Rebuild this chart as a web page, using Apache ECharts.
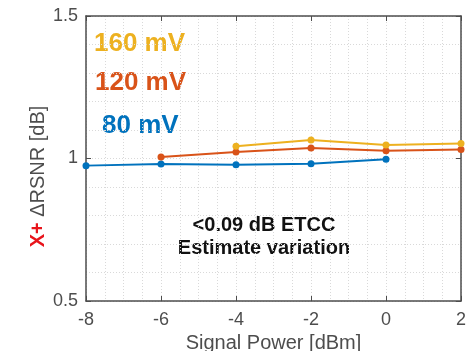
<!DOCTYPE html>
<html>
<head>
<meta charset="utf-8">
<script src="https://cdn.jsdelivr.net/npm/echarts@6/dist/echarts.min.js"></script>
<style>
  html, body { margin: 0; padding: 0; background: #fff; }
  #chart { width: 469px; height: 351px; }
</style>
</head>
<body>
<div id="chart"></div>
<script>
// signal power (dBm) and ΔRSNR (dB) per swing voltage
const power80 = [-8, -6, -4, -2, 0];
const rsnr80 = [0.975, 0.981, 0.978, 0.982, 0.997];
const power120 = [-6, -4, -2, 0, 2];
const rsnr120 = [1.005, 1.023, 1.037, 1.027, 1.032];
const power160 = [-4, -2, 0, 2];
const rsnr160 = [1.043, 1.065, 1.047, 1.053];
const seriesNames = ["80 mV", "120 mV", "160 mV"];
const seriesColors = ["#0072BD", "#D95319", "#EDB120"];
const noteLines = ["<0.09 dB ETCC", "Estimate variation"];

const pair = (xs, ys) => xs.map((x, i) => [x, ys[i]]);

const chart = echarts.init(document.getElementById("chart"));

const axisColor = "#4d4d4d";
const gridLine = { show: true, lineStyle: { color: "#d9d9d9", type: [1, 2], width: 1 } };
const font = "Liberation Sans, Arial, sans-serif";

const lineSeries = (i, data) => ({
  name: seriesNames[i],
  type: "line",
  data,
  symbol: "circle",
  symbolSize: 7,
  lineStyle: { color: seriesColors[i], width: 2 },
  itemStyle: { color: seriesColors[i] },
  z: 3 + i,
});

// box axes (top / right) only carry the inward ticks
const boxAxis = {
  axisLine: { show: true, onZero: false, lineStyle: { color: axisColor, width: 1.5 } },
  axisTick: { show: true, inside: true, length: 5, lineStyle: { color: axisColor } },
  axisLabel: { show: false },
  splitLine: { show: false },
};

const option = {
  animation: false,
  grid: { left: 86, right: 8, top: 16, bottom: 50, outerBoundsMode: "none" },
  xAxis: [
    {
      type: "value",
      min: -8,
      max: 2,
      interval: 2,
      name: "Signal Power [dBm]",
      nameLocation: "middle",
      nameGap: 32,
      nameMoveOverlap: false,
      nameTextStyle: { fontSize: 20, color: axisColor, fontFamily: font },
      axisLine: { show: true, onZero: false, lineStyle: { color: axisColor, width: 1.5 } },
      axisTick: { show: true, inside: true, length: 5, lineStyle: { color: axisColor } },
      axisLabel: { fontSize: 18, color: axisColor, fontFamily: font, margin: 10 },
      splitLine: gridLine,
      minorTick: { show: false, splitNumber: 4 },
      minorSplitLine: gridLine,
    },
    Object.assign({ type: "value", position: "top", min: -8, max: 2, interval: 2 }, boxAxis),
  ],
  yAxis: [
    {
      type: "value",
      min: 0.5,
      max: 1.5,
      interval: 0.5,
      name: "{r|X+} ΔRSNR [dB]",
      nameLocation: "middle",
      nameGap: 38,
      nameRotate: 90,
      nameMoveOverlap: false,
      nameTextStyle: {
        fontSize: 20,
        color: axisColor,
        fontFamily: font,
        padding: [0, 36, 0, 0],
        rich: { r: { fontSize: 20, color: "#e8141b", fontWeight: "bold", fontFamily: font } },
      },
      axisLine: { show: true, onZero: false, lineStyle: { color: axisColor, width: 1.5 } },
      axisTick: { show: true, inside: true, length: 5, lineStyle: { color: axisColor } },
      axisLabel: { fontSize: 18, color: axisColor, fontFamily: font, margin: 8 },
      splitLine: gridLine,
      minorTick: { show: false, splitNumber: 5 },
      minorSplitLine: gridLine,
    },
    Object.assign({ type: "value", position: "right", min: 0.5, max: 1.5, interval: 0.5 }, boxAxis),
  ],
  graphic: [
    {
      type: "text", left: 94, top: 31,
      style: { text: seriesNames[2], fill: seriesColors[2], font: "bold 26px " + font },
    },
    {
      type: "text", left: 95, top: 70,
      style: { text: seriesNames[1], fill: seriesColors[1], font: "bold 26px " + font },
    },
    {
      type: "text", left: 102, top: 113,
      style: { text: seriesNames[0], fill: seriesColors[0], font: "bold 26px " + font },
    },
    {
      type: "text", x: 264, y: 237,
      style: {
        text: noteLines.join("\n"),
        fill: "#111",
        font: "bold 20px " + font,
        align: "center",
        verticalAlign: "middle",
        lineHeight: 23,
      },
    },
  ],
  series: [
    lineSeries(0, pair(power80, rsnr80)),
    lineSeries(1, pair(power120, rsnr120)),
    lineSeries(2, pair(power160, rsnr160)),
  ],
};

chart.setOption(option);
</script>
</body>
</html>
